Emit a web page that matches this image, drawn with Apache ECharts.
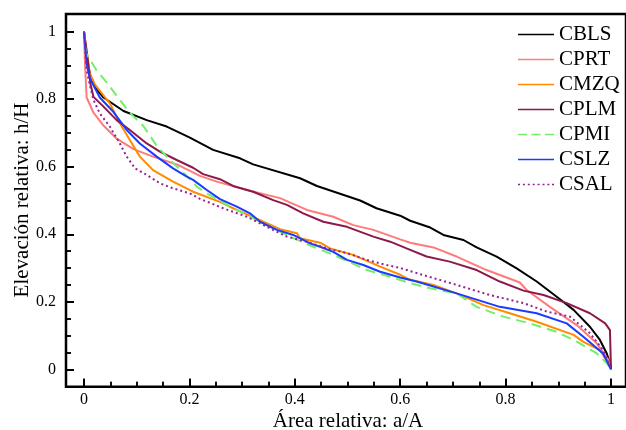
<!DOCTYPE html>
<html>
<head>
<meta charset="utf-8">
<script src="https://cdn.jsdelivr.net/npm/echarts@6/dist/echarts.min.js"></script>
<style>html,body{margin:0;padding:0;background:#fff}#c{width:626px;height:430px}</style>
</head>
<body>
<div id="c"></div>
<script>
const seriesNames = ['CBLS', 'CPRT', 'CMZQ', 'CPLM', 'CPMI', 'CSLZ', 'CSAL'];
const xTitle = 'Área relativa: a/A';
const yTitle = 'Elevación relativa: h/H';

const CBLS = [[0,1],[0.005,0.92],[0.012,0.87],[0.024,0.83],[0.037,0.805],[0.075,0.765],[0.119,0.738],[0.157,0.719],[0.2,0.687],[0.245,0.65],[0.296,0.625],[0.321,0.607],[0.41,0.566],[0.442,0.543],[0.524,0.5],[0.555,0.477],[0.6,0.455],[0.619,0.44],[0.657,0.42],[0.682,0.398],[0.72,0.383],[0.745,0.361],[0.783,0.334],[0.821,0.299],[0.859,0.26],[0.897,0.215],[0.929,0.176],[0.96,0.126],[0.979,0.087],[0.992,0.047],[1,0.008],[1,0]];
const CPRT = [[0,1],[0.002,0.9],[0.005,0.805],[0.018,0.76],[0.037,0.722],[0.062,0.683],[0.094,0.652],[0.131,0.63],[0.179,0.605],[0.22,0.573],[0.252,0.556],[0.309,0.531],[0.372,0.507],[0.423,0.472],[0.473,0.452],[0.511,0.427],[0.549,0.413],[0.6,0.385],[0.619,0.375],[0.663,0.361],[0.707,0.334],[0.764,0.294],[0.827,0.257],[0.84,0.235],[0.884,0.185],[0.935,0.131],[0.973,0.077],[0.995,0.028],[1,0]];
const CMZQ = [[0,1],[0.011,0.877],[0.02,0.845],[0.049,0.788],[0.068,0.729],[0.087,0.679],[0.106,0.63],[0.131,0.59],[0.169,0.556],[0.207,0.526],[0.258,0.496],[0.283,0.477],[0.334,0.442],[0.372,0.415],[0.404,0.403],[0.41,0.388],[0.448,0.375],[0.467,0.358],[0.511,0.339],[0.562,0.304],[0.6,0.28],[0.619,0.265],[0.663,0.25],[0.707,0.225],[0.758,0.19],[0.808,0.166],[0.859,0.141],[0.929,0.102],[0.947,0.082],[0.979,0.057],[0.998,0.01],[1,0]];
const CPLM = [[0,1],[0.008,0.906],[0.012,0.847],[0.018,0.807],[0.037,0.778],[0.062,0.738],[0.087,0.709],[0.119,0.669],[0.144,0.645],[0.176,0.62],[0.207,0.597],[0.226,0.578],[0.258,0.563],[0.283,0.543],[0.321,0.526],[0.359,0.501],[0.385,0.487],[0.416,0.462],[0.454,0.437],[0.499,0.422],[0.549,0.393],[0.581,0.378],[0.612,0.358],[0.65,0.334],[0.694,0.319],[0.745,0.294],[0.789,0.26],[0.834,0.233],[0.872,0.22],[0.916,0.196],[0.96,0.166],[0.989,0.136],[0.998,0.116],[1,0]];
const CPMI = [[0,1],[0.004,0.936],[0.024,0.885],[0.043,0.85],[0.062,0.81],[0.087,0.76],[0.113,0.72],[0.138,0.662],[0.163,0.62],[0.195,0.573],[0.214,0.541],[0.233,0.521],[0.277,0.482],[0.309,0.457],[0.353,0.422],[0.391,0.393],[0.435,0.363],[0.473,0.339],[0.537,0.294],[0.581,0.274],[0.619,0.255],[0.657,0.24],[0.707,0.225],[0.745,0.185],[0.796,0.156],[0.846,0.136],[0.897,0.111],[0.935,0.082],[0.973,0.047],[0.992,0.018],[1,0]];
const CSLZ = [[0,1],[0.005,0.906],[0.011,0.862],[0.03,0.805],[0.056,0.762],[0.081,0.709],[0.106,0.669],[0.138,0.63],[0.169,0.595],[0.195,0.571],[0.207,0.561],[0.233,0.531],[0.258,0.504],[0.29,0.482],[0.315,0.462],[0.334,0.437],[0.366,0.413],[0.397,0.398],[0.429,0.373],[0.448,0.363],[0.473,0.348],[0.499,0.324],[0.53,0.309],[0.562,0.289],[0.6,0.272],[0.631,0.26],[0.707,0.225],[0.789,0.185],[0.859,0.166],[0.916,0.136],[0.947,0.097],[0.985,0.047],[1,0]];
const CSAL = [[0,1],[0.005,0.887],[0.011,0.842],[0.018,0.798],[0.03,0.758],[0.049,0.719],[0.068,0.669],[0.081,0.63],[0.097,0.595],[0.119,0.576],[0.144,0.551],[0.169,0.536],[0.201,0.521],[0.22,0.505],[0.264,0.477],[0.309,0.452],[0.347,0.422],[0.385,0.393],[0.423,0.378],[0.461,0.358],[0.499,0.344],[0.537,0.324],[0.574,0.309],[0.6,0.3],[0.644,0.279],[0.707,0.25],[0.77,0.22],[0.834,0.196],[0.878,0.171],[0.922,0.156],[0.96,0.107],[0.985,0.057],[1,0]];

const dataList = [CBLS, CPRT, CMZQ, CPLM, CPMI, CSLZ, CSAL];
const colors = ['#000000', '#ff7b7b', '#ff8c00', '#8b1a4b', '#74ee6a', '#1a3cff', '#942294'];
const lineTypes = ['solid', 'solid', 'solid', 'solid', [10, 6], 'solid', [2, 3]];

const FONT = 'Liberation Serif';

// legend icon shapes (36 x 20 box), built from segment lists
function iconPath(segs) {
  let p = 'path://M0,0L0.01,0L0.01,0.01Z M36,20L35.99,20L35.99,19.99Z';
  segs.forEach(([a, b]) => { p += ` M${a},9.3L${b},9.3L${b},10.7L${a},10.7Z`; });
  return p;
}
const solidSegs = [[0, 36]];
const dashSegs = [[0, 9], [13.5, 22.5], [27, 36]];
const dotSegs = [[0, 2], [4.9, 6.9], [9.8, 11.8], [14.7, 16.7], [19.6, 21.6], [24.5, 26.5], [29.4, 31.4], [34, 36]];
const iconSegs = [solidSegs, solidSegs, solidSegs, solidSegs, dashSegs, solidSegs, dotSegs];

const chart = echarts.init(document.getElementById('c'));

const series = seriesNames.map((n, i) => ({
  name: n,
  type: 'line',
  xAxisIndex: 3,
  yAxisIndex: 3,
  data: dataList[i],
  symbol: 'none',
  clip: false,
  animation: false,
  lineStyle: { color: colors[i], width: 2, type: lineTypes[i] },
  itemStyle: { color: colors[i] },
  z: 3
}));

const off = { type: 'value', min: 0, max: 1, axisLine: { show: false }, axisTick: { show: false }, axisLabel: { show: false }, splitLine: { show: false } };
const tickAxis = {
  type: 'value', min: 0, max: 1, interval: 0.2,
  axisLine: { show: false },
  splitLine: { show: false },
  axisTick: { show: true, inside: true, length: 8, lineStyle: { color: '#000', width: 2 } },
  minorTick: { show: true, splitNumber: 4, length: 5, lineStyle: { color: '#000', width: 1.5 } }
};
// tick marks drawn as split lines inside thin strips along the frame
const majorStrip = Object.assign({}, off, { interval: 0.2, splitLine: { show: true, lineStyle: { color: '#000', width: 2 } } });
const minorStrip = Object.assign({}, off, { interval: 0.2,
  minorTick: { show: false, splitNumber: 4 },
  minorSplitLine: { show: true, lineStyle: { color: '#000', width: 1.5 } } });

chart.setOption({
  animation: false,
  backgroundColor: '#fff',
  textStyle: { fontFamily: FONT },
  grid: [
    // 0: frame
    { left: 66, top: 14, width: 562, height: 372.7, show: true, borderColor: '#000', borderWidth: 2.5, backgroundColor: 'transparent' },
    // 1: y ticks + labels
    { left: 66, top: 31.7, width: 545, height: 337.6 },
    // 2: x ticks + labels
    { left: 84, top: 14, width: 527, height: 372.7 },
    // 3: data
    { left: 84, top: 31.7, width: 527, height: 337.6 },
    // 4,5: y tick strips (major / minor)
    { left: 66, top: 31.7, width: 8, height: 337.6 },
    { left: 66, top: 31.7, width: 5, height: 337.6 },
    // 6,7: x tick strips (major / minor)
    { left: 84, top: 378.7, width: 527, height: 8 },
    { left: 84, top: 381.7, width: 527, height: 5 }
  ],
  xAxis: [
    Object.assign({}, off, { gridIndex: 0 }),
    Object.assign({}, off, { gridIndex: 1 }),
    Object.assign({}, tickAxis, { gridIndex: 2, position: 'bottom',
      axisLabel: { show: true, margin: 5, fontSize: 16, color: '#000', fontFamily: FONT } }),
    Object.assign({}, off, { gridIndex: 3 }),
    Object.assign({}, off, { gridIndex: 4 }),
    Object.assign({}, off, { gridIndex: 5 }),
    Object.assign({}, majorStrip, { gridIndex: 6 }),
    Object.assign({}, minorStrip, { gridIndex: 7 })
  ],
  yAxis: [
    Object.assign({}, off, { gridIndex: 0 }),
    Object.assign({}, tickAxis, { gridIndex: 1, position: 'left',
      axisLabel: { show: true, margin: 10, fontSize: 16, color: '#000', fontFamily: FONT } }),
    Object.assign({}, off, { gridIndex: 2 }),
    Object.assign({}, off, { gridIndex: 3 }),
    Object.assign({}, majorStrip, { gridIndex: 4 }),
    Object.assign({}, minorStrip, { gridIndex: 5 }),
    Object.assign({}, off, { gridIndex: 6 }),
    Object.assign({}, off, { gridIndex: 7 })
  ],
  legend: {
    orient: 'vertical', left: 513, top: 19,
    itemWidth: 36, itemHeight: 20, itemGap: 4,
    data: seriesNames.map((n, i) => ({ name: n, icon: iconPath(iconSegs[i]) })),
    textStyle: { fontSize: 21, color: '#000', fontFamily: FONT, lineHeight: 20 }
  },
  graphic: [
    { type: 'text', x: 348, y: 421, silent: true,
      style: { text: xTitle, font: '21px "Liberation Serif"', fill: '#000', align: 'center', verticalAlign: 'middle' } },
    { type: 'text', x: 22, y: 200, rotation: Math.PI / 2, silent: true,
      style: { text: yTitle, font: '21px "Liberation Serif"', fill: '#000', align: 'center', verticalAlign: 'middle' } }
  ],
  series: series
});
</script>
</body>
</html>
